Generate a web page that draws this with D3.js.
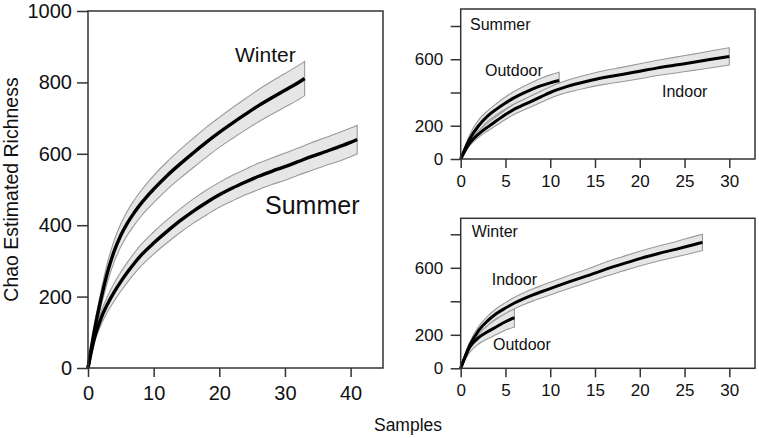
<!DOCTYPE html>
<html><head><meta charset="utf-8">
<script src="https://cdn.jsdelivr.net/npm/d3@7"></script>
<style>
html,body{margin:0;padding:0;background:#fff;}
svg{display:block;}
text{font-family:"Liberation Sans",Arial,Helvetica,sans-serif;fill:#111;}
</style></head>
<body>
<svg id="c" width="759" height="438"></svg>
<script>
// ---- Data ----
// Left panel: all samples by season
const winterX  = [0,1,2,3,4,5,6,7,8,9,10,12,14,16,18,20,22,24,26,28,30,32,33];
const winterY  = [0,108,195,270,328,372,406,434,459,481,501,538,571,602,632,660,686,711,735,757,778,799,811];
const winterCI = [0,15,22,27,30,32,34,35,36,37,38,39,40,41,42,42,43,44,45,46,47,48,48];

const summerX  = [0,1,2,3,4,5,6,7,8,10,12,14,16,18,20,22,24,26,28,30,32,34,36,38,40,41];
const summerY  = [0,85,140,180,213,242,268,292,314,350,382,412,439,463,485,504,521,537,551,564,578,592,605,618,632,640];
const summerCI = [0,12,18,22,25,27,28,29,30,31,32,33,34,35,35,36,36,37,37,38,38,39,39,40,40,40];

// Right top: Summer indoor / outdoor
const sumOutX  = [0,1,2,3,4,5,6,7,8,9,10,11];
const sumOutY  = [0,120,200,258,300,337,369,396,420,441,458,472];
const sumOutCI = [0,25,35,32,34,36,38,40,42,45,48,50];

const sumInX   = [0,1,2,3,4,5,6,7,8,9,10,12,14,16,18,20,22,24,26,28,30];
const sumInY   = [0,95,150,192,230,267,300,325,350,375,400,438,466,490,508,528,548,565,582,600,617];
const sumInCI  = [0,15,20,24,27,29,31,32,33,34,35,37,39,41,43,45,46,48,49,51,52];

// Right bottom: Winter indoor / outdoor
const winOutX  = [0,1,2,3,4,5,6];
const winOutY  = [0,125,183,218,248,278,302];
const winOutCI = [0,30,38,42,46,50,55];

const winInX   = [0,1,2,3,4,5,6,7,8,9,10,12,14,16,18,20,22,24,26,27];
const winInY   = [0,135,225,283,327,360,390,415,437,457,476,514,550,588,622,655,684,710,738,752];
const winInCI  = [0,18,24,28,30,32,34,35,36,37,38,39,40,42,43,44,45,46,48,49];

// Tick values
const leftXTicks  = [0,10,20,30,40];
const leftYTicks  = [0,200,400,600,800,1000];
const rightXTicks = [0,5,10,15,20,25,30];
const rightYTicks = [0,200,400,600,800];
const rightYLabeled = [0,200,600];

// ---- Drawing ----
const svg = d3.select("#c");

function series(xs, ys, ci){ return xs.map((x,i)=>({x, y:ys[i], lo:ys[i]-ci[i], hi:ys[i]+ci[i]})); }

function panel(opt){
  const g = svg.append("g");
  const x = d3.scaleLinear().domain(opt.xd).range(opt.xr);
  const y = d3.scaleLinear().domain(opt.yd).range(opt.yr);
  const area = d3.area().x(d=>x(d.x)).y0(d=>y(d.lo)).y1(d=>y(d.hi)).curve(d3.curveMonotoneX);
  const line = d3.line().x(d=>x(d.x)).y(d=>y(d.y)).curve(d3.curveMonotoneX);
  opt.series.forEach(s=>{
    g.append("path").datum(s).attr("d", area(s)+"Z")
      .attr("fill","#e6e6e6").attr("stroke","#9a9a9a").attr("stroke-width",1.1);
  });
  opt.series.forEach(s=>{
    g.append("path").datum(s).attr("d", line)
      .attr("fill","none").attr("stroke","#000").attr("stroke-width",opt.lw)
      .attr("stroke-linecap","butt");
  });
  g.append("rect").attr("x",opt.box[0]).attr("y",opt.box[1])
    .attr("width",opt.box[2]-opt.box[0]).attr("height",opt.box[3]-opt.box[1])
    .attr("fill","none").attr("stroke","#333").attr("stroke-width",1.5);
  const ax = d3.axisBottom(x).tickValues(opt.xt).tickSize(opt.xts).tickPadding(opt.xtp).tickFormat(d3.format("d"));
  const gx = g.append("g").attr("transform",`translate(0,${opt.box[3]})`).call(ax);
  const ay = d3.axisLeft(y).tickValues(opt.yt).tickSize(opt.yts).tickPadding(opt.ytp)
    .tickFormat(d=> opt.yl.includes(d) ? d3.format("d")(d) : "");
  const gy = g.append("g").attr("transform",`translate(${opt.box[0]},0)`).call(ay);
  [gx,gy].forEach(a=>{
    a.select(".domain").remove();
    a.selectAll(".tick line").attr("stroke","#333").attr("stroke-width",1.5);
    a.selectAll(".tick text").attr("font-size",opt.fs).attr("fill","#111")
      .style("font-family",'"Liberation Sans",Arial,Helvetica,sans-serif');
  });
  opt.labels.forEach(l=>{
    g.append("text").attr("x",l[1]).attr("y",l[2]).attr("font-size",l[3]).text(l[0]);
  });
}

panel({
  xd:[0,40], xr:[88,350.6], yd:[0,1000], yr:[368,11], box:[88,11,383,368],
  series:[series(winterX,winterY,winterCI), series(summerX,summerY,summerCI)],
  lw:3.4, xt:leftXTicks, yt:leftYTicks, yl:leftYTicks,
  xts:9, xtp:9, yts:11, ytp:5, fs:20,
  labels:[["Winter",235,62,21],["Summer",265,214,25]]
});

panel({
  xd:[0,30], xr:[460.7,729.3], yd:[0,800], yr:[159,26], box:[460.7,9,755,159],
  series:[series(sumOutX,sumOutY,sumOutCI), series(sumInX,sumInY,sumInCI)],
  lw:3, xt:rightXTicks, yt:rightYTicks, yl:rightYLabeled,
  xts:9, xtp:7, yts:10, ytp:7.5, fs:17,
  labels:[["Summer",470,29.5,16],["Outdoor",485,76,16],["Indoor",662,96.5,16]]
});

panel({
  xd:[0,30], xr:[460.7,729.3], yd:[0,800], yr:[368.3,234.3], box:[460.7,218.3,755,368.3],
  series:[series(winOutX,winOutY,winOutCI), series(winInX,winInY,winInCI)],
  lw:3, xt:rightXTicks, yt:rightYTicks, yl:rightYLabeled,
  xts:9, xtp:7, yts:10, ytp:7.5, fs:17,
  labels:[["Winter",471.7,237.3,16],["Indoor",491.7,285,16],["Outdoor",493,350,16]]
});

svg.append("text").attr("transform","translate(18,189.5) rotate(-90)")
  .attr("text-anchor","middle").attr("font-size",19.5).text("Chao Estimated Richness");
svg.append("text").attr("x",408).attr("y",431).attr("text-anchor","middle")
  .attr("font-size",17.5).text("Samples");
</script>
</body></html>
